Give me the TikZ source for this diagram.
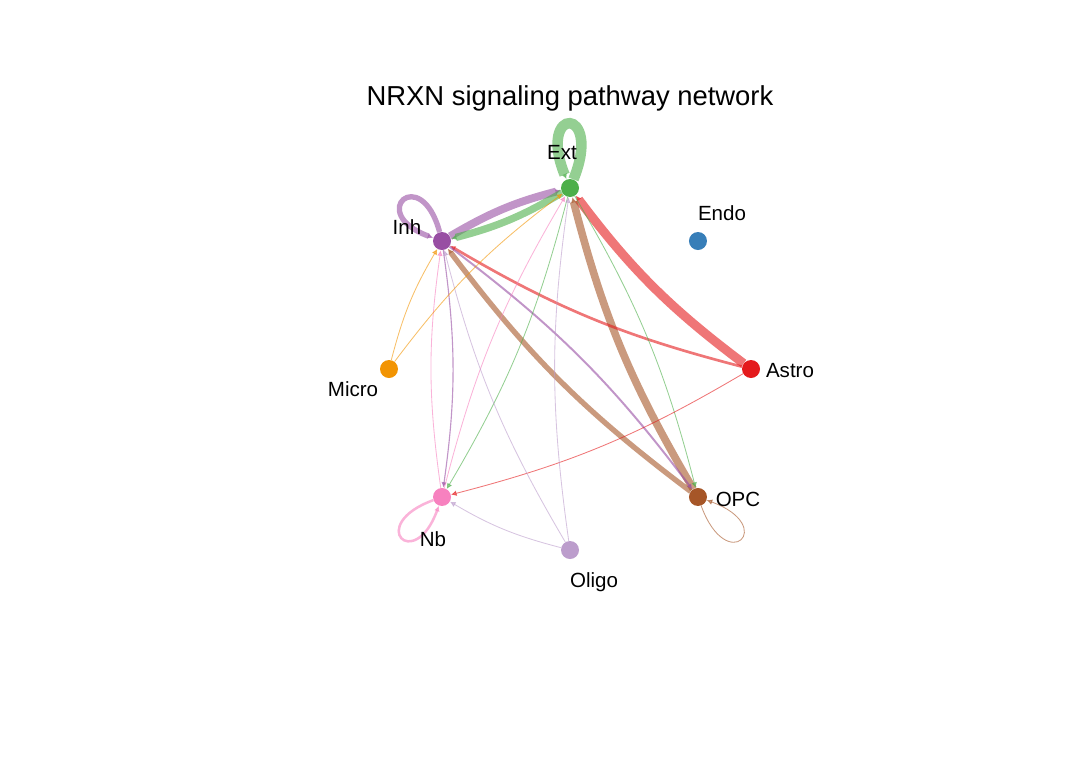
\documentclass[tikz,border=0pt]{standalone}
\usepackage{fontspec}
\setmainfont{Liberation Sans}
\usepackage{tikz}
\usetikzlibrary{backgrounds,arrows.meta}
\usepackage{xcolor}

\definecolor{astro}{HTML}{E41A1C}
\definecolor{endo}{HTML}{377EB8}
\definecolor{ext}{HTML}{4DAF4A}
\definecolor{inh}{HTML}{984EA3}
\definecolor{micro}{HTML}{F29403}
\definecolor{nb}{HTML}{F781BF}
\definecolor{oligo}{HTML}{BC9DCC}
\definecolor{opc}{HTML}{A65628}

\begin{document}
\begin{tikzpicture}[
    cell/.style={circle, inner sep=0pt, minimum size=0.45cm},
    celllabel/.style={font=\fontsize{14.6}{17}\selectfont, inner sep=0pt},
    link/.style={opacity=0.6, -{Latex[length=4pt,width=4pt]}}
]
    % Define circle layout
    \def\radius{4.525};
    \useasboundingbox (-14.25,-10.05) rectangle (12.75,9.225);

    % Title
    \node[font=\fontsize{19.5}{23}\selectfont] (title) at (0,6.775) {NRXN signaling pathway network};

    % Place the cell groups round the circle
    \foreach \name/\col/\k/\dx/\dy in {Astro/astro/0/0.975/-0.05, Endo/endo/1/0.6/0.7, Ext/ext/2/-0.2/0.875, Inh/inh/3/-0.875/0.35, Micro/micro/4/-0.9/-0.5, Nb/nb/5/-0.225/-1.05, Oligo/oligo/6/0.6/-0.8, OPC/opc/7/1.0/-0.05} {
        \pgfmathsetmacro{\myangle}{45*\k}
        \node[cell, fill=\col] (\name) at (\myangle:\radius) {};
        \node[celllabel] (\name-label) at ([shift={(\dx,\dy)}]\name) {\name};
    }

    \begin{scope}[on background layer]
        % Self loops
        \draw[link, color=ext, line width=7.5pt] (Ext) to[out=68,in=112,distance=2.0cm] (Ext);
        \draw[link, color=inh, line width=3.8pt] (Inh) to[out=105,in=160,distance=1.8cm] (Inh);
        \draw[link, color=nb, line width=1.8pt] (Nb) to[out=200,in=250,distance=1.8cm] (Nb);
        \draw[link, color=opc, line width=0.6pt] (OPC) to[out=-70,in=-20,distance=1.9cm] (OPC);

        % Links between groups, widths follow the signal strength
        \foreach \from/\to/\col/\w in {Inh/Ext/inh/5.6, Ext/Inh/ext/5.2, Astro/Ext/astro/6.4, OPC/Ext/opc/5.4, OPC/Inh/opc/3.8, Astro/Inh/astro/1.9, Inh/OPC/inh/1.4, Ext/OPC/ext/0.6, Ext/Nb/ext/0.6, Astro/Nb/astro/0.6, Inh/Nb/inh/0.8, Nb/Inh/nb/0.6, Nb/Ext/nb/0.6, Oligo/Nb/oligo/0.6, Oligo/Inh/oligo/0.6, Oligo/Ext/oligo/0.6, Micro/Inh/micro/0.6, Micro/Ext/micro/0.6} {
            \draw[link, color=\col, line width=\w pt] (\from) to[bend left=8] (\to);
        }
    \end{scope}
\end{tikzpicture}
\end{document}
